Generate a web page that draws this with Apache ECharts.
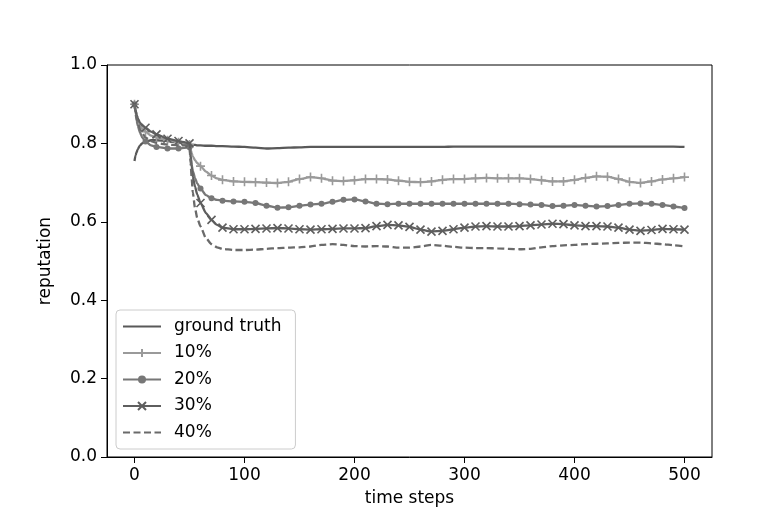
<!DOCTYPE html>
<html><head><meta charset="utf-8">
<script src="https://cdn.jsdelivr.net/npm/echarts@6/dist/echarts.min.js"></script>
<style>html,body{margin:0;padding:0;background:#fff}#c{width:774px;height:518px}</style>
</head><body><div id="c"></div>
<script>
const steps = [0,1,2,3,5,7,10,15,20,30,40,50,
  51,52,53,55,57,60,65,70,75,80,90,
  100,110,120,130,140,150,160,170,180,190,200,
  210,220,230,240,250,260,270,280,290,300,
  310,320,330,340,350,360,370,380,390,400,
  410,420,430,440,450,460,470,480,490,500];
const xTicks = [0,100,200,300,400,500];
const yTicks = [0,0.2,0.4,0.6,0.8,1.0];
const seriesNames = ['ground truth','10%','20%','30%','40%'];

const groundTruth = [0.755,0.77,0.778,0.785,0.795,0.80,0.805,0.808,0.808,0.806,0.802,0.798,
  0.797,0.797,0.796,0.796,0.795,0.795,0.794,0.794,0.793,0.793,0.792,
  0.791,0.789,0.787,0.788,0.789,0.79,0.791,0.791,0.791,0.791,0.791,
  0.791,0.791,0.791,0.791,0.791,0.791,0.791,0.791,0.792,0.792,
  0.792,0.792,0.792,0.792,0.792,0.792,0.792,0.792,0.792,0.792,
  0.792,0.792,0.792,0.792,0.792,0.792,0.792,0.792,0.792,0.791];
const pct10 = [0.9,0.885,0.872,0.862,0.848,0.838,0.83,0.82,0.815,0.808,0.803,0.797,
  0.785,0.775,0.767,0.757,0.75,0.742,0.728,0.718,0.711,0.707,0.703,
  0.702,0.701,0.70,0.699,0.702,0.709,0.714,0.711,0.705,0.704,0.706,
  0.709,0.709,0.708,0.705,0.702,0.701,0.703,0.707,0.709,0.709,
  0.711,0.712,0.711,0.711,0.711,0.709,0.706,0.703,0.703,0.707,
  0.712,0.716,0.715,0.709,0.702,0.699,0.703,0.708,0.711,0.714];
const pct20 = [0.9,0.875,0.858,0.845,0.828,0.815,0.805,0.795,0.791,0.787,0.787,0.79,
  0.765,0.745,0.73,0.712,0.698,0.685,0.668,0.66,0.656,0.654,0.652,
  0.651,0.648,0.641,0.636,0.637,0.641,0.644,0.646,0.651,0.656,0.657,
  0.652,0.646,0.645,0.646,0.646,0.646,0.646,0.646,0.646,0.646,
  0.646,0.646,0.646,0.646,0.645,0.644,0.643,0.640,0.641,0.643,
  0.641,0.639,0.640,0.643,0.646,0.647,0.646,0.643,0.639,0.635];
const pct30 = [0.9,0.885,0.873,0.864,0.853,0.846,0.84,0.83,0.823,0.812,0.806,0.80,
  0.77,0.74,0.715,0.69,0.67,0.648,0.622,0.605,0.592,0.585,0.581,
  0.581,0.582,0.583,0.584,0.583,0.581,0.58,0.581,0.582,0.583,0.583,
  0.584,0.589,0.592,0.591,0.587,0.58,0.575,0.577,0.581,0.585,
  0.588,0.589,0.588,0.588,0.589,0.591,0.593,0.595,0.594,0.591,
  0.589,0.589,0.588,0.585,0.58,0.577,0.579,0.582,0.581,0.58];
const pct40 = [0.9,0.88,0.865,0.853,0.837,0.826,0.815,0.806,0.801,0.797,0.795,0.795,
  0.75,0.71,0.675,0.635,0.61,0.588,0.558,0.543,0.535,0.531,0.528,
  0.528,0.529,0.531,0.533,0.534,0.535,0.537,0.541,0.543,0.541,0.538,
  0.537,0.538,0.537,0.534,0.534,0.537,0.541,0.539,0.536,0.534,
  0.533,0.533,0.532,0.531,0.53,0.531,0.535,0.538,0.54,0.541,
  0.543,0.544,0.545,0.546,0.547,0.547,0.545,0.543,0.54,0.537];

const FONT = 'DejaVu Sans';
const PLUS = 'path://M5,0L5,10M0,5L10,5';
const CROSS = 'path://M0,0L10,10M10,0L0,10';

function buildData(arr) {
  return steps.map((t, i) => {
    const item = { value: [t, arr[i]] };
    if (t % 10 !== 0) item.symbol = 'none';
    return item;
  });
}
function mkSeries(name, arr, color, symbol, size, dashed, z) {
  return {
    name: name, type: 'line', data: buildData(arr),
    symbol: symbol, symbolSize: size, showSymbol: symbol !== 'none',
    smooth: 0.2, smoothMonotone: 'x', z: z,
    lineStyle: { color: color, width: 2.3, type: dashed ? [7, 3.5] : 'solid' },
    itemStyle: { color: color, borderColor: color, borderWidth: symbol === 'circle' ? 0 : 1.6 },
    emphasis: { disabled: true }
  };
}

const chart = echarts.init(document.getElementById('c'), null, { renderer: 'canvas' });
chart.setOption({
  animation: false,
  backgroundColor: '#ffffff',
  textStyle: { fontFamily: FONT },
  grid: { left: 107, top: 65, width: 605, height: 392, show: true, borderColor: '#000', borderWidth: 1, backgroundColor: 'transparent' },
  xAxis: {
    type: 'value', min: -25, max: 525,
    name: 'time steps', nameLocation: 'middle', nameGap: 33,
    nameTextStyle: { fontSize: 17, color: '#000', fontFamily: FONT },
    axisLine: { show: true, onZero: false, lineStyle: { color: '#000', width: 1 } },
    axisTick: { show: true, length: 6, lineStyle: { color: '#000' }, customValues: xTicks },
    axisLabel: { customValues: xTicks, fontSize: 17, color: '#000', margin: 10, fontFamily: FONT },
    splitLine: { show: false }
  },
  yAxis: {
    type: 'value', min: 0, max: 1, interval: 0.2,
    name: 'reputation', nameLocation: 'middle', nameGap: 53,
    nameTextStyle: { fontSize: 17, color: '#000', fontFamily: FONT },
    axisLine: { show: true, onZero: false, lineStyle: { color: '#000', width: 1 } },
    axisTick: { show: true, length: 6, lineStyle: { color: '#000' }, customValues: yTicks },
    axisLabel: { customValues: yTicks, fontSize: 17, color: '#000', margin: 10, fontFamily: FONT,
      formatter: v => Number(v).toFixed(1) },
    splitLine: { show: false }
  },
  legend: {
    orient: 'vertical', left: 116, top: 310,
    padding: [8, 14, 8, 6], itemGap: 9.5, itemWidth: 38, itemHeight: 10,
    backgroundColor: 'rgba(255,255,255,0.8)', borderColor: '#cccccc', borderWidth: 1, borderRadius: 4,
    textStyle: { fontSize: 17, color: '#000', fontFamily: FONT, padding: [0, 0, 0, 8] },
    data: [
      { name: seriesNames[0], itemStyle: { opacity: 0 } },
      { name: seriesNames[1] },
      { name: seriesNames[2] },
      { name: seriesNames[3] },
      { name: seriesNames[4], itemStyle: { opacity: 0 } }
    ]
  },
  series: [
    mkSeries(seriesNames[0], groundTruth, '#595959', 'none', 0, false, 2),
    mkSeries(seriesNames[1], pct10, '#9a9a9a', PLUS, 9, false, 3),
    mkSeries(seriesNames[2], pct20, '#777777', 'circle', 6, false, 4),
    mkSeries(seriesNames[3], pct30, '#5e5e5e', CROSS, 8, false, 5),
    mkSeries(seriesNames[4], pct40, '#6a6a6a', 'none', 0, true, 6)
  ]
});
</script>
</body></html>
